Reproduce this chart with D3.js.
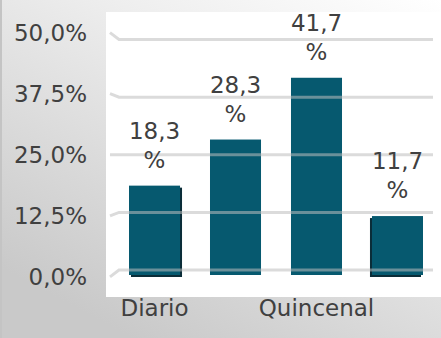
<!DOCTYPE html>
<html><head><meta charset="utf-8">
<script src="https://cdn.jsdelivr.net/npm/d3@7"></script>
<style>html,body{margin:0;padding:0;overflow:hidden;}svg{display:block;}</style>
</head><body>
<script>
const categories = ["Diario", "Semanal", "Quincenal", "Mensual"];
const values = [18.3, 28.3, 41.7, 11.7];
const yTicks = [0, 12.5, 25, 37.5, 50];
const shownCategories = ["Diario", "Quincenal"];

const W = 441, H = 338;
const fmt = v => v.toFixed(1).replace(".", ",");
const svg = d3.select("body").append("svg").attr("width", W).attr("height", H);
const defs = svg.append("defs");
const g = defs.append("linearGradient").attr("id","bg").attr("x1","1").attr("y1","0").attr("x2","0.3").attr("y2","1");
g.append("stop").attr("offset","0").attr("stop-color","#ffffff");
g.append("stop").attr("offset","0.35").attr("stop-color","#eeeeee");
g.append("stop").attr("offset","1").attr("stop-color","#c9c9c9");
svg.append("rect").attr("width",W).attr("height",H).attr("fill","url(#bg)");
svg.append("rect").attr("x",0).attr("y",0).attr("width",2).attr("height",H).attr("fill","#c4c4c4");
// plot area
svg.append("rect").attr("x",106).attr("y",12).attr("width",W-106).attr("height",297-12).attr("fill","#ffffff");

const y = d3.scaleLinear().domain([0,50]).range([270,39.5]);
const x = d3.scaleBand().domain(categories).range([112.8,439.2]).paddingInner(0.37).paddingOuter(0.2);
const depth = 5, vanish = 155, k = 0.06;

// bars
const bars = svg.append("g");
categories.forEach((c,i)=>{
  const x0 = x(c), bw = x.bandwidth(), top = y(values[i]), bot = y(0)+depth;
  if (i===0) bars.append("rect").attr("x",x0+2).attr("y",top+2).attr("width",bw).attr("height",bot-top).attr("fill","#0b2d38");
  if (i===3) bars.append("rect").attr("x",x0-2).attr("y",top+2).attr("width",bw).attr("height",bot-top).attr("fill","#0b2d38");
  bars.append("rect").attr("x",x0).attr("y",top).attr("width",bw).attr("height",bot-top).attr("fill","#06596f");
});

// gridlines (drawn over bars)
const grid = svg.append("g");
yTicks.forEach(t=>{
  const yy = y(t), yl = yy + (yy-vanish)*k;
  grid.append("path").attr("d",`M110,${yl}L119,${yy}L433,${yy}`)
    .attr("fill","none").attr("stroke","#bdbdbd").attr("stroke-opacity",0.55).attr("stroke-width",3);
  svg.append("text").attr("x",87).attr("y",yl).attr("dy","0.36em").attr("text-anchor","end")
    .attr("font-family","DejaVu Sans").attr("font-size",23).attr("fill","#404040").text(fmt(t)+"%");
});

// value labels
categories.forEach((c,i)=>{
  const cx = x(c)+x.bandwidth()/2, top = y(values[i]);
  const t = svg.append("text").attr("text-anchor","middle").attr("font-family","DejaVu Sans").attr("font-size",23).attr("fill","#404040");
  t.append("tspan").attr("x",cx).attr("y",top-47).text(fmt(values[i]));
  t.append("tspan").attr("x",cx).attr("y",top-18).text("%");
});

// x labels
const xAxis = d3.axisBottom(x).tickValues(shownCategories).tickSize(0).tickPadding(0);
const ax = svg.append("g").attr("transform","translate(0,300)").call(xAxis);
ax.select(".domain").remove();
ax.selectAll("text").attr("font-family","DejaVu Sans").attr("font-size",23).attr("fill","#404040").attr("dy","0.7em");
</script>
</body></html>
